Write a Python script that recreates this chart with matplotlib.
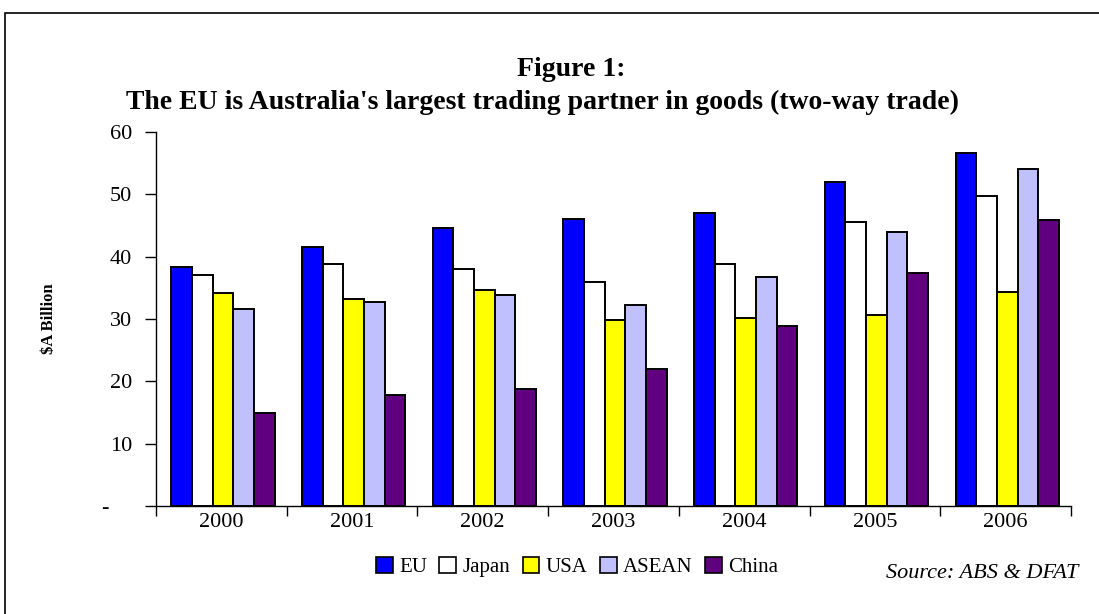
import numpy as np
import matplotlib
matplotlib.use("Agg")
from matplotlib import pyplot as plt
from matplotlib.patches import Rectangle, Patch

# data ($A billion)
years = ["2000", "2001", "2002", "2003", "2004", "2005", "2006"]
partners = ["EU", "Japan", "USA", "ASEAN", "China"]
eu = [38.3, 41.6, 44.6, 46.1, 47.0, 51.9, 56.7]
japan = [37.1, 38.9, 38.0, 35.9, 38.9, 45.6, 49.7]
usa = [34.1, 33.2, 34.7, 29.8, 30.1, 30.7, 34.3]
asean = [31.6, 32.8, 33.9, 32.2, 36.8, 44.0, 54.0]
china = [15.0, 17.8, 18.7, 22.0, 28.9, 37.4, 45.9]

series = [eu, japan, usa, asean, china]
colors = ["#0000FF", "#FFFFFF", "#FFFF00", "#C0C0FF", "#600080"]

plt.rcParams["font.family"] = ["Liberation Serif", "DejaVu Serif"]

fig = plt.figure(figsize=(10.99, 6.14), dpi=100)
ax = fig.add_axes([0.1419, 0.1759, 0.8326, 0.6091])

x = np.arange(len(years))
w = 0.158
for k, (vals, c) in enumerate(zip(series, colors)):
    ax.bar(x + (k - 2) * w + 0.012, vals, width=w, color=c,
           edgecolor="black", linewidth=1.4, zorder=3)

ax.set_xlim(-0.5, len(years) - 0.5)
ax.set_ylim(0, 60)
ax.set_yticks([0, 10, 20, 30, 40, 50, 60])
ax.set_yticklabels(["-    ", "10", "20", "30", "40", "50", "60"])
ax.set_xticks(x)
ax.set_xticklabels(years)
ax.set_xticks(np.arange(-0.5, len(years)), minor=True)
ax.tick_params(axis="x", which="major", length=0, pad=5, labelsize=16)
ax.tick_params(axis="x", which="minor", length=7, width=1, direction="out")
ax.tick_params(axis="y", length=8, width=1, direction="out", pad=9, labelsize=16)

for s in ["top", "right"]:
    ax.spines[s].set_visible(False)
ax.spines["left"].set_linewidth(1)
ax.spines["bottom"].set_linewidth(1)

ax.set_ylabel("$A Billion", fontsize=12, fontweight="bold", labelpad=33)

fig.text(0.52, 0.886, "Figure 1:", ha="center", va="center",
         fontsize=20, fontweight="bold")
fig.text(0.494, 0.833,
         "The EU is Australia's largest trading partner in goods (two-way trade)",
         ha="center", va="center", fontsize=20, fontweight="bold")

handles = [Patch(facecolor=c, edgecolor="black", linewidth=1.2) for c in colors]
fig.legend(handles, partners, loc="center", bbox_to_anchor=(0.525, 0.077),
           ncol=5, frameon=False, fontsize=15, handlelength=0.8,
           handleheight=0.8, handletextpad=0.3, columnspacing=0.6)

fig.text(0.806, 0.066, "Source: ABS & DFAT", fontsize=16, style="italic",
         ha="left", va="center")

# outer border of the chart area
fig.patches.append(Rectangle((0.0046, -0.2), 1.2, 1.1787, transform=fig.transFigure,
                             fill=False, edgecolor="black", linewidth=1.2))

fig.savefig("out.png", dpi=100)
